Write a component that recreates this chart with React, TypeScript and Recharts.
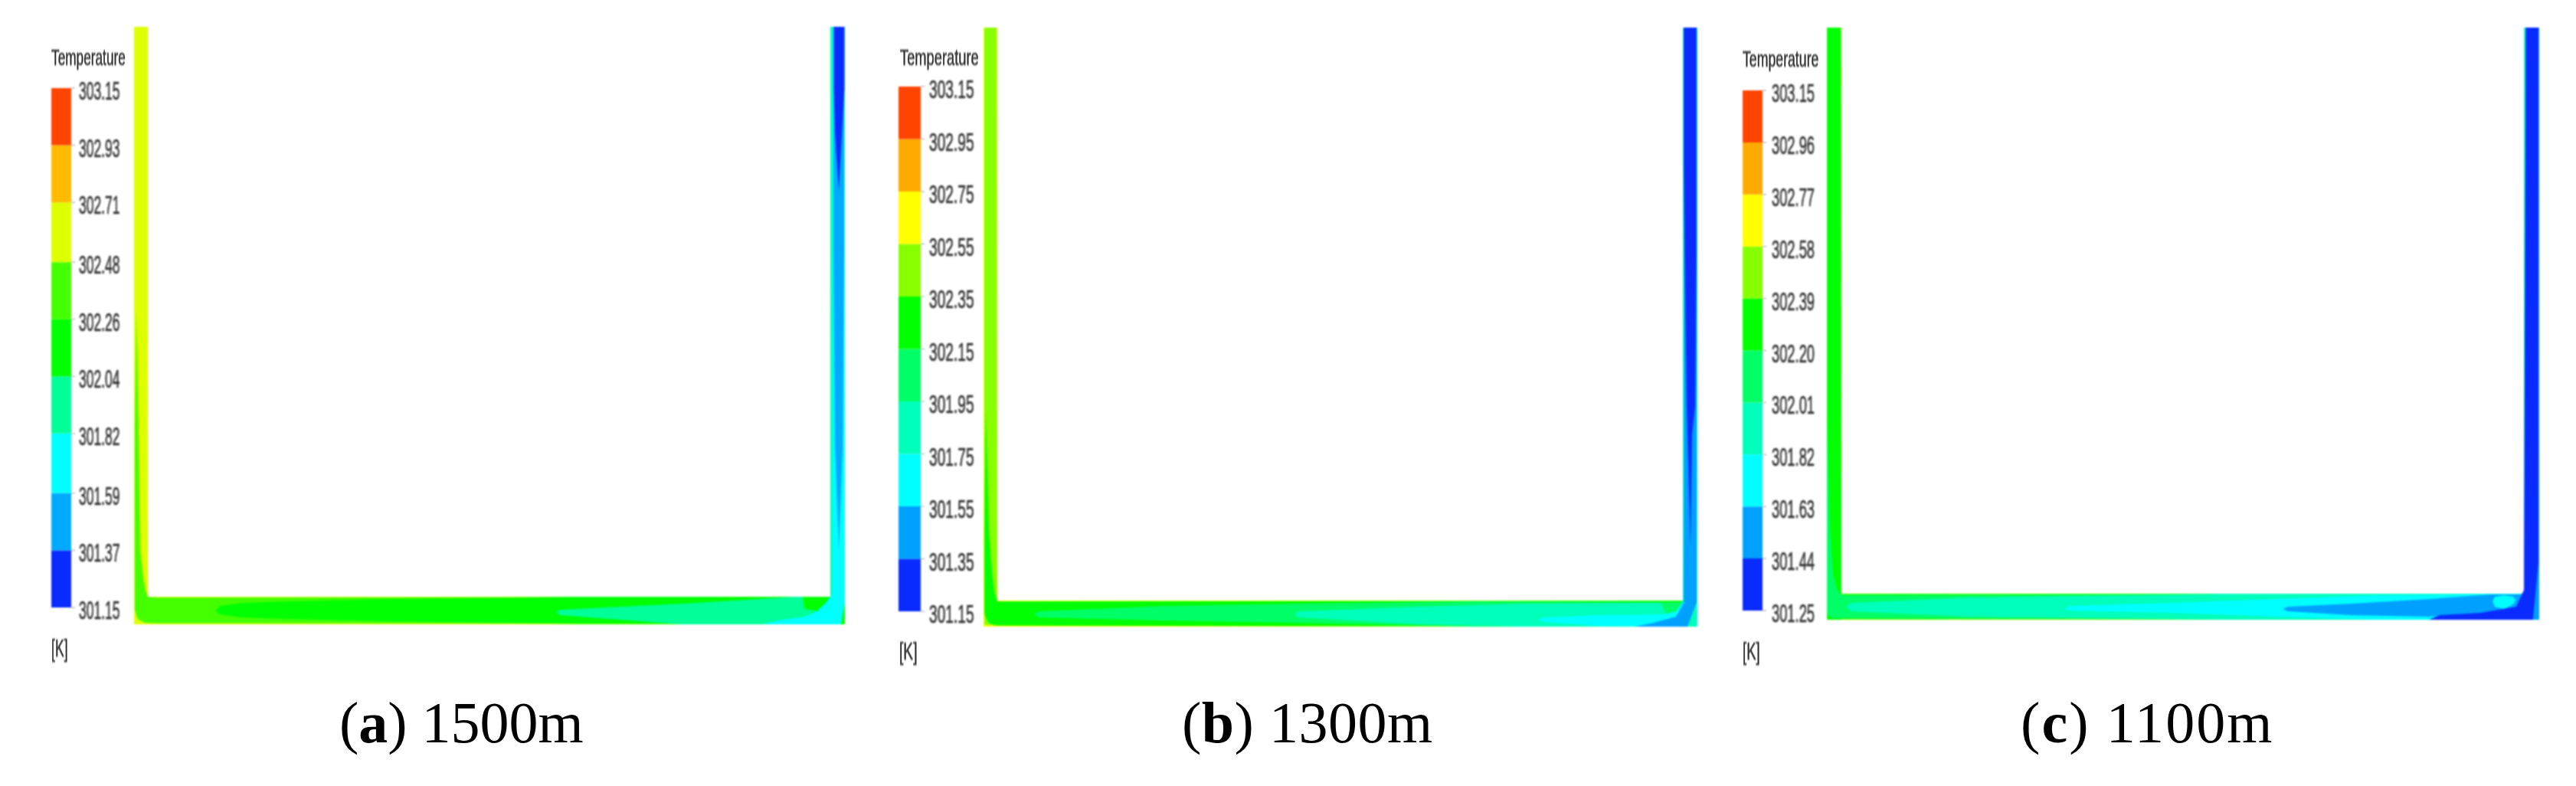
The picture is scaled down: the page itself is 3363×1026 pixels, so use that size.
import { ComposedChart, Area, XAxis, YAxis } from 'recharts'

// temperature levels, lowest first
const ticksA = [301.15, 301.37, 301.59, 301.82, 302.04, 302.26, 302.48, 302.71, 302.93, 303.15]
const ticksB = [301.15, 301.35, 301.55, 301.75, 301.95, 302.15, 302.35, 302.55, 302.75, 302.95, 303.15]
const ticksC = [301.25, 301.44, 301.63, 301.82, 302.01, 302.2, 302.39, 302.58, 302.77, 302.96, 303.15]

const coloursA = ['#0a2bff', '#00aaff', '#00ffff', '#00ff99', '#00ff00', '#44ff00', '#ddff00', '#ffbb00', '#ff4400']
const coloursB = ['#0a2bff', '#00a0ff', '#00ffff', '#00ffbb', '#00ff66', '#00ff00', '#88ff00', '#ffff00', '#ffaa00', '#ff4400']

type Point = [number, number, number]
type Region = [number, Point[]]

// contour regions: [colour index, [distance along channel, lower edge, upper edge]...], painted in order
const regionsA: Region[] = [
  [6, [[0, 0, 780], [18, 0, 780]]],
  [6, [[0, 0, 36], [928, 0, 36]]],
  [5, [[1, 20, 250], [3, 12, 410], [5, 7, 300], [8, 5, 96], [12, 3, 60], [15, 2, 44], [18, 2, 36], [30, 1.5, 35], [600, 1, 35.5]]],
  [4, [[106, 18, 18], [112, 13, 24], [140, 9, 28], [200, 7, 30], [327, 4, 33], [501, 1.5, 35], [581, 0.5, 36], [928, 0, 36]]],
  [3, [[551, 16, 16], [556, 12, 19], [595, 9, 21], [716, 0, 27], [863, 0, 36], [873, 0, 36], [875, 0, 20], [890, 0, 18]]],
  [3, [[909, 0, 780], [928, 0, 780]]],
  [2, [[822, 0, 0], [840, 0, 5], [875, 0, 10], [890, 0, 16], [903, 0, 28], [908.9, 0, 36], [911, 0, 40], [911.1, 0, 780], [928, 0, 780]]],
  [4, [[923, 0, 1], [928, 0, 30]]],
  [1, [[913, 500, 780], [915, 234, 780], [918, 150, 780], [920, 96, 780], [922, 150, 780], [925, 234, 780], [927, 500, 780]]],
  [0, [[913.5, 700, 780], [915, 642, 780], [920, 565, 780], [924, 640, 780], [927.5, 700, 780]]],
]

const regionsB: Region[] = [
  [7, [[0, 0, 782], [18, 0, 782]]],
  [7, [[0, 0, 34], [932, 0, 34]]],
  [6, [[1, 2, 782], [17, 2, 782], [18, 1.5, 33], [542, 1, 33]]],
  [5, [[1, 18, 120], [3, 12, 284], [5, 8, 200], [7, 5, 126], [11, 3, 70], [14, 2, 45], [18, 1.5, 33], [542, 0.5, 33.5], [932, 0, 34]]],
  [4, [[66, 16, 16], [72, 12, 20], [234, 8, 27], [408, 5, 30], [636, 0, 33], [884, 0, 32], [932, 0, 32]]],
  [3, [[405, 16, 16], [412, 12, 20], [569, 3, 26], [703, 0, 30], [884, 0, 31], [890, 0, 18], [932, 0, 18]]],
  [3, [[913, 0, 782], [932, 0, 782]]],
  [2, [[723, 9, 9], [732, 6, 12], [803, 1, 15], [890, 0, 16], [904, 0, 20], [912.9, 0, 33], [915, 0, 34], [915.1, 0, 782], [932, 0, 782]]],
  [1, [[850, 0, 0], [870, 0, 4], [904, 0, 13], [914, 0, 31], [915, 0, 782], [931, 0, 782]]],
  [3, [[919, 0, 0], [931, 0, 32]]],
  [0, [[914, 600, 782], [915, 492, 782], [918, 288, 782], [923, 104, 782], [925, 250, 782], [929, 288, 782], [931, 492, 782]]],
]

const regionsC: Region[] = [
  [6, [[0, 0, 773], [19, 0, 773]]],
  [6, [[0, 0, 34], [930, 0, 34]]],
  [5, [[0, 0, 773], [18, 0, 773], [19, 1, 33.5], [551, 0.5, 34], [930, 0, 34]]],
  [4, [[0, 12, 160], [1, 6, 261], [4, 4, 120], [8, 2, 59], [14, 2, 38], [20, 2, 32], [498, 0.5, 33], [551, 0, 34], [930, 0, 34]]],
  [3, [[25, 17, 17], [32, 11, 22], [183, 4, 29], [518, 0, 34], [930, 0, 34]]],
  [2, [[310, 15, 15], [318, 12, 18], [451, 9, 22], [585, 4, 27], [719, 0, 32], [910, 0, 34], [930, 0, 34]]],
  [3, [[910, 0, 773], [930, 0, 773]]],
  [1, [[595, 14, 14], [602, 11, 17], [685, 6, 21], [786, 4, 27], [866, 9, 33], [869, 9, 33], [900, 0, 33], [911, 0, 34], [912, 0, 773], [930, 0, 773]]],
  [2, [[869, 24, 24], [872, 17, 30], [884, 14, 32], [896, 20, 30], [899, 26, 26]]],
  [0, [[786, 0, 0], [800, 0, 6], [853, 0, 9], [900, 0, 17], [910, 0, 39], [912.5, 0, 773], [929, 0, 773]]],
  [1, [[922, 0, 2], [929, 0, 75]]],
]

const captionsA = ['(', 'a', ') 1500m']
const captionsB = ['(', 'b', ') 1300m']
const captionsC = ['(', 'c', ') 1100m']

const font = '"Liberation Sans", Arial, sans-serif'
const textColour = '#333333'

function LevelTick({ x, y, payload, squeeze }: any) {
  return (
    <text
      transform={`translate(${x},${y + 15}) scale(${squeeze},1)`}
      fontFamily={font}
      fontSize={33}
      fill={textColour}
      stroke={textColour}
      strokeWidth={0.7}
    >
      {payload.value.toFixed(2)}
    </text>
  )
}

function ColourBar({ ticks, colours, left, top, width, height, gap, squeeze }: any) {
  const axisWidth = 90
  const pad = 30
  return (
    <div style={{ position: 'absolute', left, top: top - pad, filter: 'blur(1px)' }}>
      <ComposedChart
        width={width + axisWidth}
        height={height + pad * 2}
        margin={{ top: pad, bottom: pad, left: 0, right: 0 }}
      >
        <XAxis type="number" dataKey="x" domain={[0, 1]} hide />
        <YAxis
          type="number"
          orientation="right"
          width={axisWidth}
          domain={[ticks[0], ticks[ticks.length - 1]]}
          ticks={ticks}
          interval={0}
          axisLine={false}
          tickSize={5}
          tickMargin={gap - 5}
          tickLine={{ stroke: '#999999' }}
          tick={<LevelTick squeeze={squeeze} />}
        />
        {colours.map((c: string, i: number) => (
          <Area
            key={i}
            data={[
              { x: 0, band: [ticks[i], ticks[i + 1]] },
              { x: 1, band: [ticks[i], ticks[i + 1]] },
            ]}
            dataKey="band"
            type="linear"
            fill={c}
            fillOpacity={1}
            stroke="none"
            dot={false}
            activeDot={false}
            isAnimationActive={false}
          />
        ))}
      </ComposedChart>
    </div>
  )
}

function Channel({ regions, colours, left, top, width, height }: any) {
  return (
    <div style={{ position: 'absolute', left, top, filter: 'blur(1.2px)' }}>
      <ComposedChart width={width} height={height} margin={{ top: 0, bottom: 0, left: 0, right: 0 }}>
        <XAxis type="number" dataKey="x" domain={[0, width]} hide />
        <YAxis type="number" domain={[0, height]} hide />
        {regions.map(([level, points]: Region, i: number) => (
          <Area
            key={i}
            data={points.map(([x, lo, hi]) => ({ x, band: [lo, hi] }))}
            dataKey="band"
            type="linear"
            fill={colours[level]}
            fillOpacity={1}
            stroke="none"
            dot={false}
            activeDot={false}
            isAnimationActive={false}
          />
        ))}
      </ComposedChart>
    </div>
  )
}

function Squeezed({ text, left, top, size, squeeze }: any) {
  return (
    <div
      style={{
        position: 'absolute',
        left,
        top,
        fontFamily: font,
        fontSize: size,
        lineHeight: 1,
        color: textColour,
        whiteSpace: 'nowrap',
        transform: `scale(${squeeze},1)`,
        transformOrigin: 'left top',
        filter: 'blur(1px)',
        WebkitTextStroke: '0.6px #333333',
      }}
    >
      {text}
    </div>
  )
}

function Caption({ parts, left, spacing }: any) {
  return (
    <div
      style={{
        position: 'absolute',
        left,
        top: 905,
        fontFamily: '"Liberation Serif", "Times New Roman", serif',
        fontSize: 76,
        lineHeight: 1,
        letterSpacing: spacing,
        color: '#000',
        whiteSpace: 'nowrap',
      }}
    >
      {parts[0]}
      <b>{parts[1]}</b>
      {parts[2]}
    </div>
  )
}

export default function App() {
  return (
    <div style={{ position: 'absolute', left: 0, top: 0, width: 3363, height: 1026, background: '#fff', overflow: 'hidden' }}>
      <Squeezed text="Temperature" left={67} top={60} size={30} squeeze={0.575} />
      <ColourBar ticks={ticksA} colours={coloursA} left={67} top={115} width={26} height={678} gap={10} squeeze={0.53} />
      <Squeezed text="[K]" left={67} top={830} size={32} squeeze={0.55} />
      <Channel regions={regionsA} colours={coloursA} left={175} top={35} width={928} height={780} />
      <Caption parts={captionsA} left={443} spacing={0} />

      <Squeezed text="Temperature" left={1175} top={60} size={30} squeeze={0.61} />
      <ColourBar ticks={ticksB} colours={coloursB} left={1173} top={113} width={29} height={685} gap={11} squeeze={0.58} />
      <Squeezed text="[K]" left={1174} top={834} size={32} squeeze={0.6} />
      <Channel regions={regionsB} colours={coloursB} left={1284} top={36} width={932} height={782} />
      <Caption parts={captionsB} left={1543} spacing={0.5} />

      <Squeezed text="Temperature" left={2275} top={62} size={30} squeeze={0.59} />
      <ColourBar ticks={ticksC} colours={coloursB} left={2275} top={118} width={26} height={679} gap={12} squeeze={0.555} />
      <Squeezed text="[K]" left={2275} top={834} size={32} squeeze={0.58} />
      <Channel regions={regionsC} colours={coloursB} left={2385} top={36} width={930} height={773} />
      <Caption parts={captionsC} left={2638} spacing={2.1} />
    </div>
  )
}
